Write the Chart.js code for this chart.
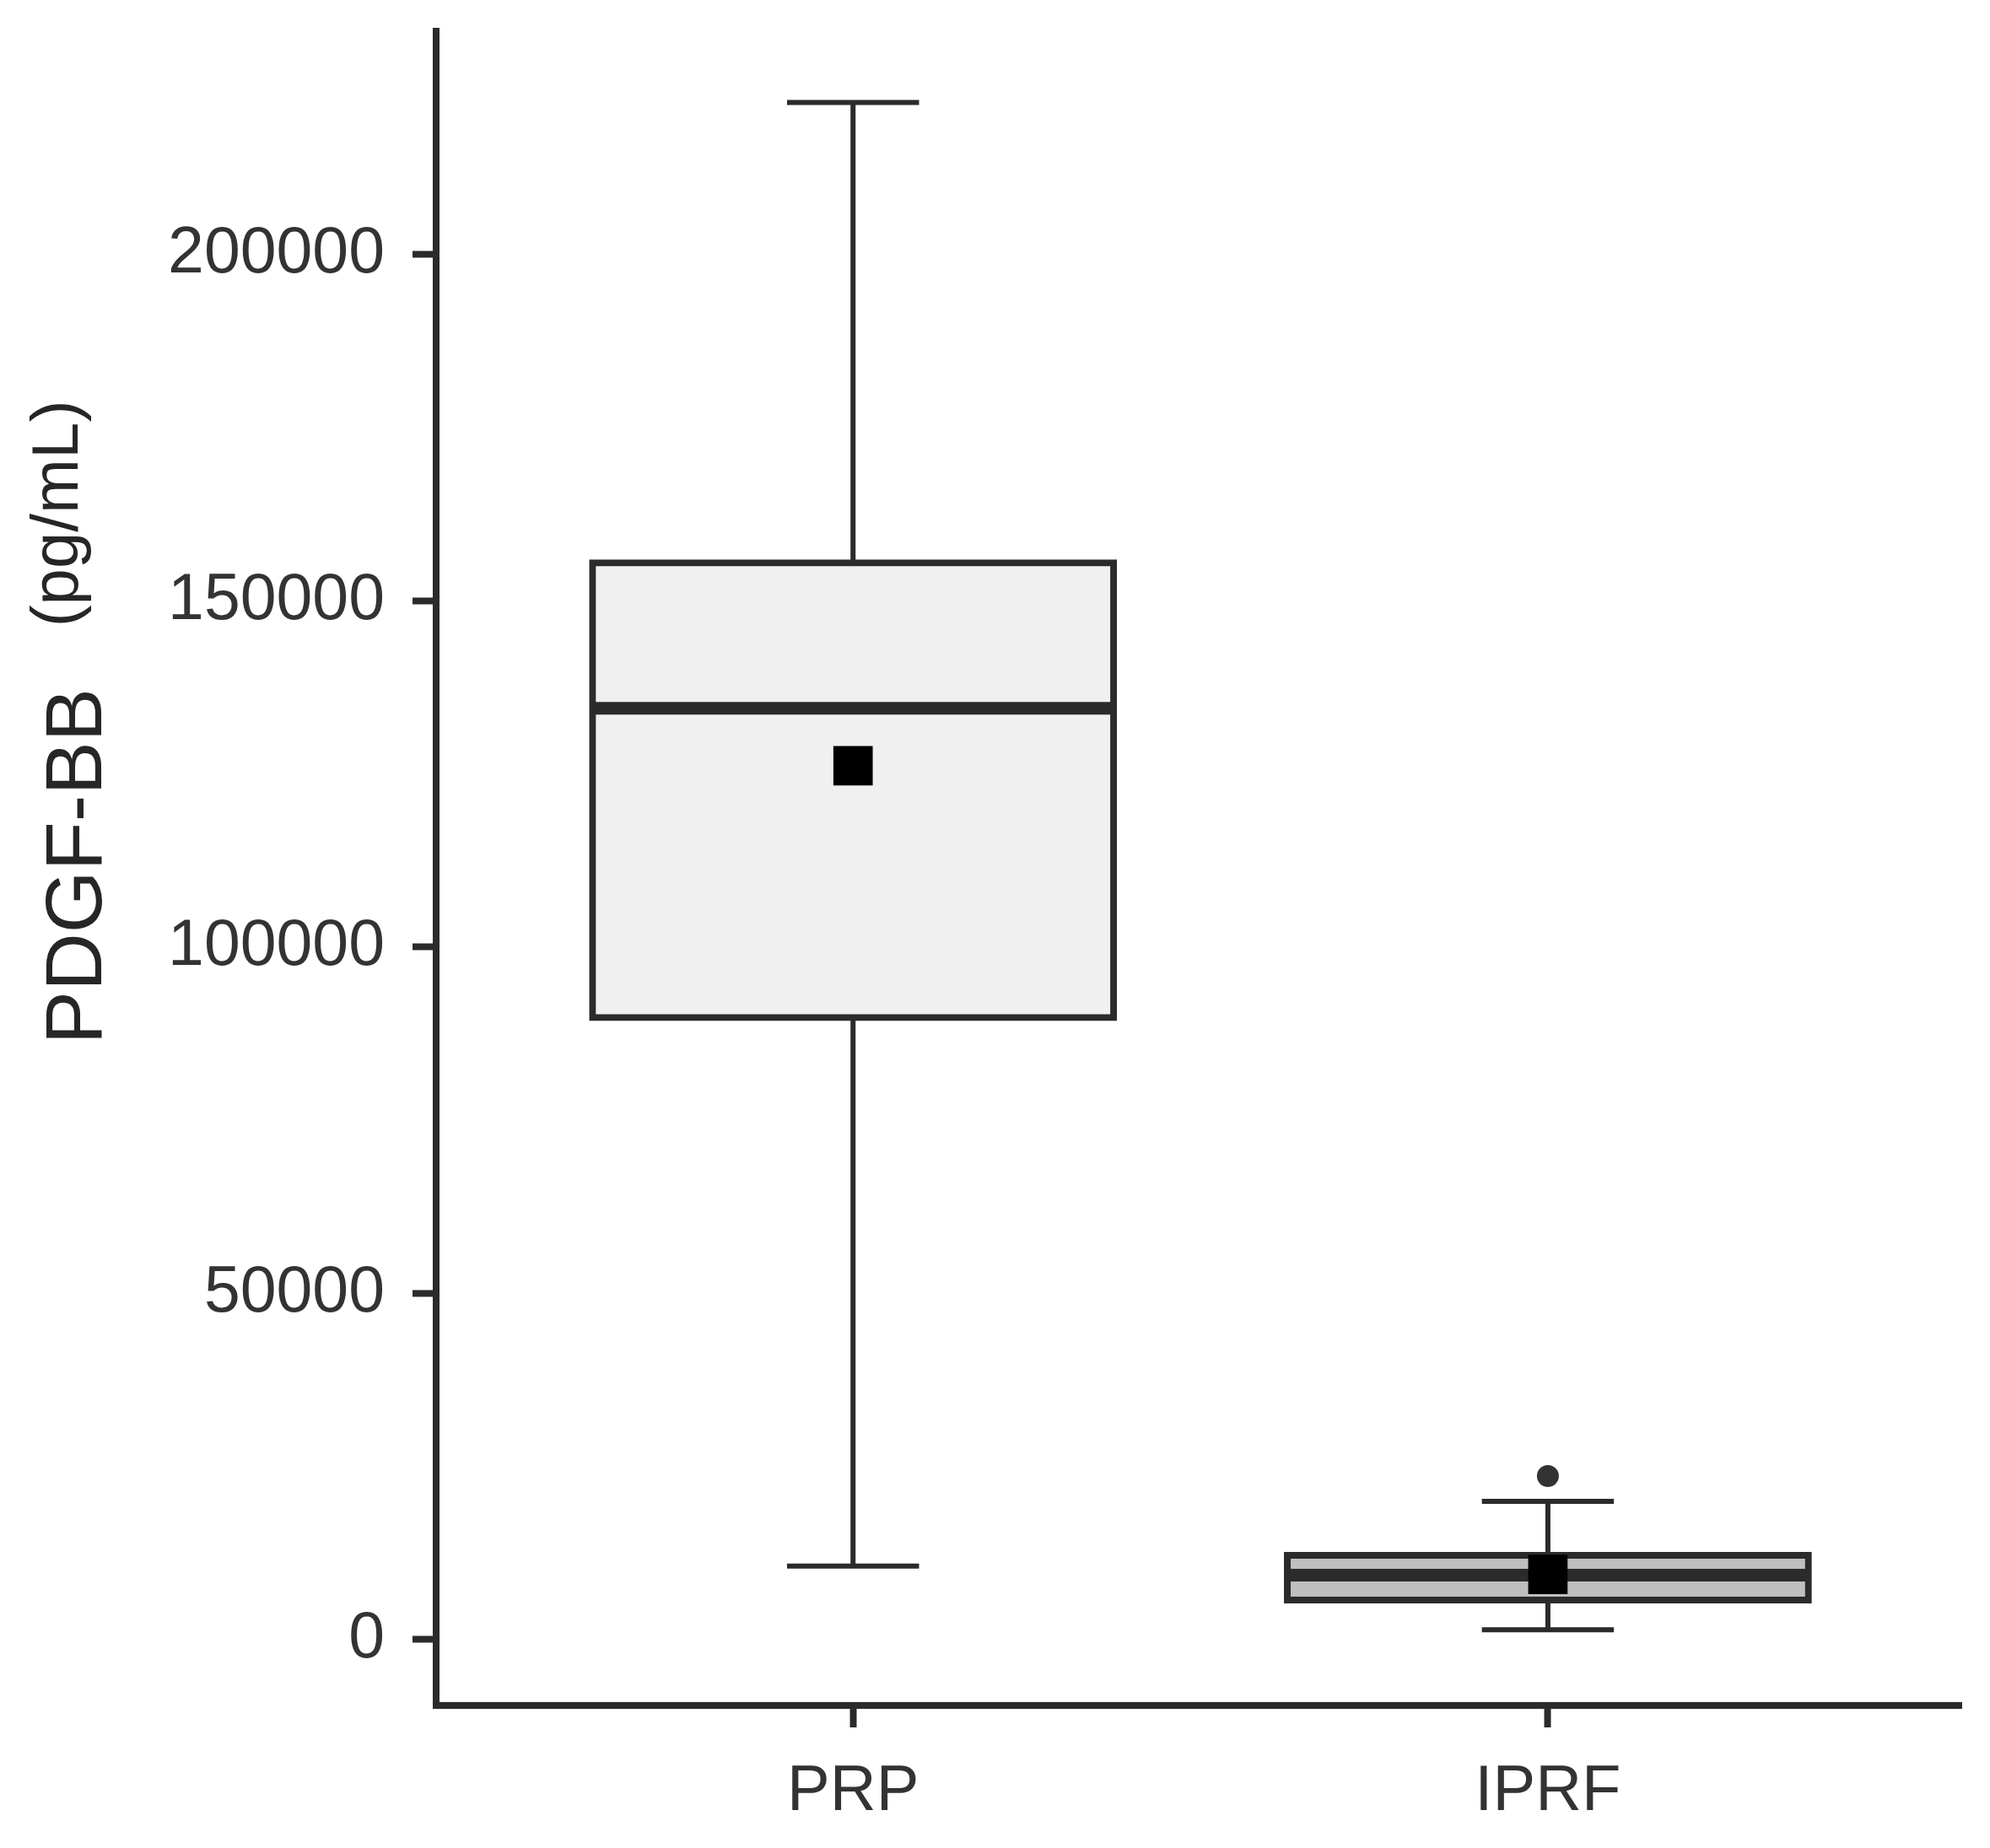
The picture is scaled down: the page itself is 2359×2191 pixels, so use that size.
<!DOCTYPE html>
<html>
<head>
<meta charset="utf-8">
<script src="https://cdn.jsdelivr.net/npm/chart.js@4/dist/chart.umd.min.js"></script>
<style>
html,body{margin:0;padding:0;background:#ffffff;}
canvas{display:block;}
</style>
</head>
<body>
<canvas id="c" width="2359" height="2191"></canvas>
<script>
// ---- data ----
const categories = ['PRP', 'IPRF'];
const q1Values = [89800, 5700];
const medianValues = [134500, 9300];
const q3Values = [155500, 12150];
const whiskerLow = [10600, 1400];
const whiskerHigh = [222000, 19950];
const meanValues = [126200, 9400];
const outlierValues = [[], [23600]];
const yTicks = [0, 50000, 100000, 150000, 200000];
const yTitle = 'PDGF-BB';
const yUnit = '(pg/mL)';

// ---- styling ----
const boxFill = ['#f0f0f0', '#bfbfbf'];
const INK = '#2b2b2b';
const FONT = '"Liberation Sans", Arial, Helvetica, sans-serif';
const BOX_HALF = 0.375;
const CAP_HALF = 0.095;

const pos = categories.map((_, i) => i + 1);

const datasets = [];

// boxes (floating bars)
datasets.push({
  type: 'bar',
  data: pos.map((x, i) => ({ x: x, y: [q1Values[i], q3Values[i]] })),
  backgroundColor: boxFill,
  borderColor: INK,
  borderWidth: 8,
  borderSkipped: false,
  inflateAmount: 4,
  barPercentage: 0.75,
  categoryPercentage: 1,
  order: 5
});

const lineBase = (data, width, order) => ({
  type: 'line',
  data: data,
  borderColor: INK,
  backgroundColor: INK,
  borderWidth: width,
  pointRadius: 0,
  fill: false,
  tension: 0,
  order: order
});

pos.forEach((x, i) => {
  // whiskers
  datasets.push(lineBase([{ x: x, y: q3Values[i] }, { x: x, y: whiskerHigh[i] }], 6, 6));
  datasets.push(lineBase([{ x: x, y: q1Values[i] }, { x: x, y: whiskerLow[i] }], 6, 6));
  // caps
  datasets.push(lineBase([{ x: x - CAP_HALF, y: whiskerHigh[i] }, { x: x + CAP_HALF, y: whiskerHigh[i] }], 6, 6));
  datasets.push(lineBase([{ x: x - CAP_HALF, y: whiskerLow[i] }, { x: x + CAP_HALF, y: whiskerLow[i] }], 6, 6));
  // median
  datasets.push(lineBase([{ x: x - BOX_HALF, y: medianValues[i] }, { x: x + BOX_HALF, y: medianValues[i] }], 15, 2));
});

// means
datasets.push({
  type: 'line',
  data: pos.map((x, i) => ({ x: x, y: meanValues[i] })),
  showLine: false,
  pointStyle: 'rect',
  pointRadius: 33,
  pointBorderWidth: 0,
  pointBackgroundColor: '#000000',
  order: 1
});

// outliers
const outlierPts = [];
pos.forEach((x, i) => outlierValues[i].forEach(v => outlierPts.push({ x: x, y: v })));
datasets.push({
  type: 'line',
  data: outlierPts,
  showLine: false,
  pointStyle: 'circle',
  pointRadius: 13,
  pointBorderWidth: 0,
  pointBackgroundColor: '#333333',
  order: 1
});

const titlePlugin = {
  id: 'yTitles',
  afterDraw(chart) {
    const ctx = chart.ctx;
    ctx.save();
    ctx.fillStyle = '#262626';
    ctx.textAlign = 'center';
    ctx.textBaseline = 'alphabetic';
    ctx.font = '95px ' + FONT;
    ctx.translate(120, 1027);
    ctx.rotate(-Math.PI / 2);
    ctx.fillText(yTitle, 0, 0);
    ctx.restore();

    ctx.save();
    ctx.fillStyle = '#262626';
    ctx.textAlign = 'center';
    ctx.textBaseline = 'alphabetic';
    ctx.font = '78px ' + FONT;
    ctx.translate(92, 609);
    ctx.rotate(-Math.PI / 2);
    ctx.fillText(yUnit, 0, 0);
    ctx.restore();
  }
};

Chart.defaults.font.family = FONT;

new Chart(document.getElementById('c'), {
  type: 'bar',
  data: { datasets: datasets },
  options: {
    responsive: false,
    animation: false,
    events: [],
    layout: { padding: { top: 37, right: 34, left: 0, bottom: 0 } },
    plugins: { legend: { display: false }, tooltip: { enabled: false } },
    scales: {
      x: {
        type: 'linear',
        min: 0.4,
        max: 2.595,
        offset: false,
        afterBuildTicks: s => { s.ticks = pos.map(v => ({ value: v })); },
        afterFit: s => { s.height = 169; s.paddingLeft = 0; s.paddingRight = 0; },
        grid: { display: true, drawOnChartArea: false, drawTicks: true, tickLength: 26, tickWidth: 8, tickColor: INK, offset: false },
        border: { display: true, width: 8, color: INK },
        ticks: {
          font: { size: 76 },
          color: '#333333',
          padding: 31,
          maxRotation: 0,
          autoSkip: false,
          callback: v => categories[Math.round(v) - 1] || ''
        }
      },
      y: {
        type: 'linear',
        min: -9530,
        max: 232280,
        afterBuildTicks: s => { s.ticks = yTicks.map(v => ({ value: v })); },
        afterFit: s => { s.width = 517; s.paddingTop = 0; s.paddingBottom = 0; },
        grid: { display: true, drawOnChartArea: false, drawTicks: true, tickLength: 28, tickWidth: 8, tickColor: INK },
        border: { display: true, width: 8, color: INK },
        ticks: {
          font: { size: 77 },
          color: '#333333',
          padding: 33,
          autoSkip: false,
          callback: v => String(v)
        }
      }
    }
  },
  plugins: [titlePlugin]
});
</script>
</body>
</html>
